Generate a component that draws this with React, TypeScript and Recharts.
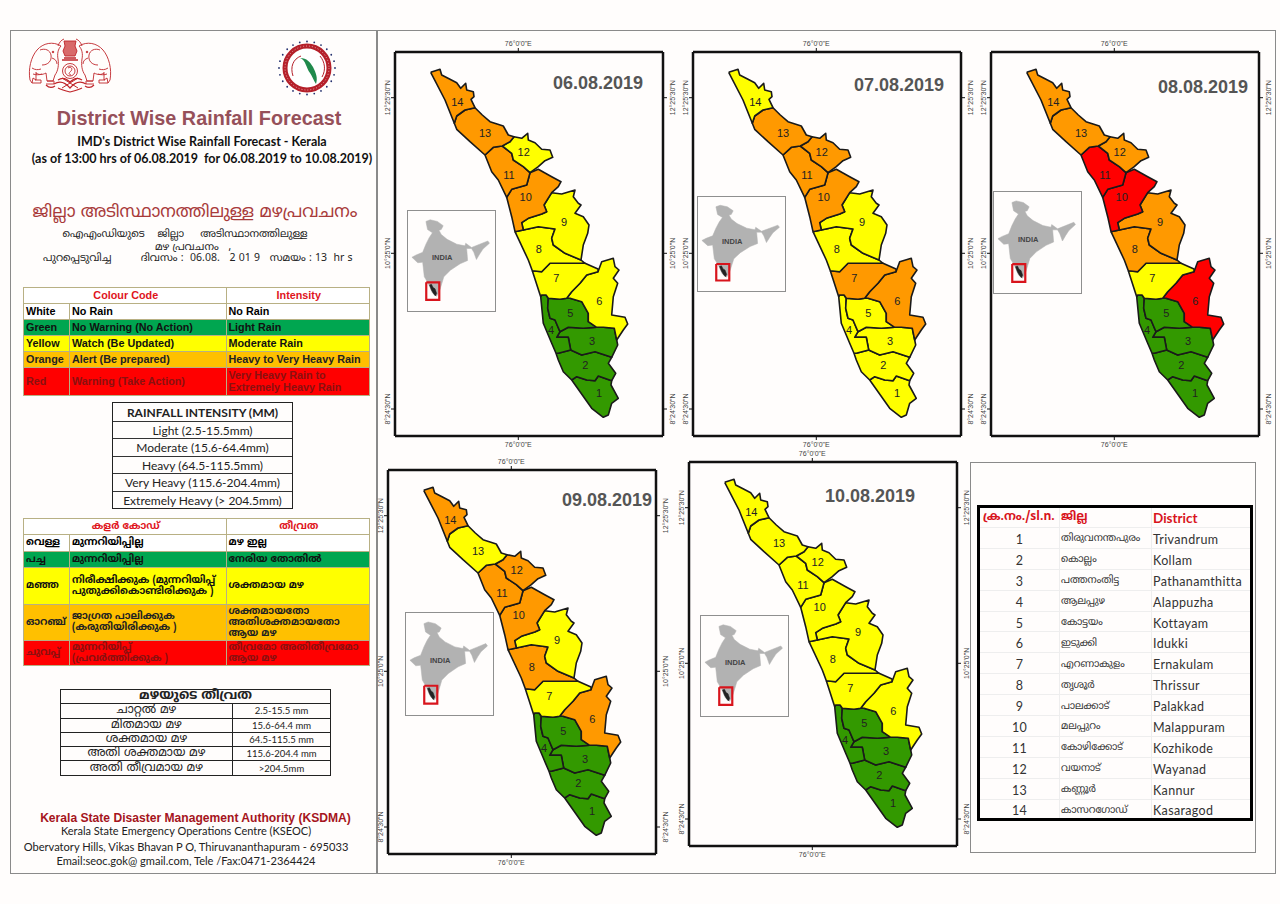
import React from 'react';
import { ScatterChart, Scatter, XAxis, YAxis } from 'recharts';

type Pt = [number, number];

// district outlines in sheet units (1 unit ~ 1px of that map)
const trivandrum: Pt[] = [[176.7,328],[181.7,324.7],[191.7,328],[200,328.7],[203.3,324],[216.7,328.7],[216,333],[223.3,346.3],[216.7,351.3],[213.3,363],[208.3,365.3],[196.7,356.3]];
const kollam: Pt[] = [[161,301.3],[163.3,301.3],[175.7,298],[186.7,303],[200,299.7],[216.7,305.3],[213.3,311.3],[220.7,321.3],[216.7,328.7],[203.3,324],[200,328.7],[191.7,328],[181.7,324.7],[176.7,328],[168.3,319.7],[163.3,308]];
const pathanamthitta: Pt[] = [[165,279.7],[173.3,275.3],[188.3,276.3],[201.7,275.3],[208.3,275.3],[219.3,276.3],[221.7,288],[222.7,293],[216.7,305.3],[200,299.7],[186.7,303],[175.7,298],[173.3,285.3],[161.7,285.3]];
const alappuzha: Pt[] = [[145.7,244.7],[146.7,243],[151,243],[153.3,246.3],[152.7,256.3],[155,266.3],[160,268],[165,279.7],[161.7,285.3],[173.3,285.3],[175.7,298],[163.3,301.3],[161,301.3],[156.7,291.3],[148.3,271.3]];
const kottayam: Pt[] = [[153.3,246.3],[165,247.3],[171.7,246.3],[175,246.3],[186.7,249.7],[193.3,261.3],[193.3,269.7],[201.7,275.3],[188.3,276.3],[173.3,275.3],[165,279.7],[160,268],[155,266.3],[152.7,256.3]];
const idukki: Pt[] = [[185,231.3],[191.7,223],[203,219.7],[206.7,209.7],[218.3,206.3],[220,214.7],[224,218],[218.3,226.3],[222.7,231.3],[218.3,244.7],[216.7,263],[230,265.3],[232.7,272],[228.3,278],[221.7,288],[219.3,276.3],[208.3,275.3],[201.7,275.3],[193.3,269.7],[193.3,261.3],[186.7,249.7],[175,246.3],[171.7,246.3],[176.7,239.7]];
const ernakulam: Pt[] = [[137.3,218.7],[146.7,219.7],[155,211.3],[173.3,211.3],[190,211.3],[203,217],[203,219.7],[191.7,223],[185,231.3],[176.7,239.7],[171.7,246.3],[165,247.3],[153.3,246.3],[151,243],[146.7,243],[145.7,244.7]];
const thrissur: Pt[] = [[120,179.7],[128.3,178],[143.3,174.7],[160,177],[156.7,186.3],[158.3,193],[170,201.3],[186,208],[190,211.3],[173.3,211.3],[155,211.3],[146.7,219.7],[137.3,218.7],[133.3,208]];
const palakkad: Pt[] = [[156.7,140.7],[166.7,142],[180,138],[178.3,144.7],[183.3,151.3],[186,153],[180,161.3],[188.3,164.7],[194,173],[192.7,181.3],[188.3,193],[186,208],[170,201.3],[158.3,193],[156.7,186.3],[160,177],[143.3,174.7],[128.3,178],[126.7,170.7],[133.3,166.3],[146.7,162],[151.7,159.7],[149,153]];
const malappuram: Pt[] = [[135,120.7],[143.3,117.3],[156.7,124.7],[166,129.7],[163.3,134.7],[156.7,140.7],[149,153],[151.7,159.7],[146.7,162],[133.3,166.3],[126.7,170.7],[128.3,178],[120,179.7],[116.7,164.7],[111.7,145.3],[116.7,137.3],[131.7,133]];
const kozhikode: Pt[] = [[90,103],[98.3,95.3],[107.3,94],[116.7,101.3],[118.3,108],[128.3,114.7],[135,120.7],[131.7,133],[116.7,137.3],[111.7,145.3],[103.3,128],[96.7,119.7]];
const wayanad: Pt[] = [[119,84.7],[126.7,86.3],[132.7,81.3],[133.3,88],[140,90.7],[146.7,97.3],[155,98],[157.7,105.3],[150,108.7],[143.3,114.7],[135,120.7],[128.3,114.7],[118.3,108],[116.7,101.3],[107.3,94],[115,89.7]];
const kannur: Pt[] = [[80,55.7],[87.3,63],[95,69.7],[108.3,74],[113.3,83],[119,84.7],[115,89.7],[107.3,94],[98.3,95.3],[90,103],[75,89.7],[61.7,77.3],[59.3,71.3],[61.7,64],[70,58]];
const kasaragod: Pt[] = [[35.7,20.3],[45,17.3],[46.7,23],[55,27.3],[61.7,30.7],[65.7,36.3],[70.7,31.3],[71.7,38],[78.3,39.7],[79,44.7],[76,47.3],[80,55.7],[70,58],[61.7,64],[59.3,71.3],[50,48]];

const districtRings = [trivandrum, kollam, pathanamthitta, alappuzha, kottayam, idukki, ernakulam, thrissur, palakkad, malappuram, kozhikode, wayanad, kannur, kasaragod];
const districtNumbers = ['1','2','3','4','5','6','7','8','9','10','11','12','13','14'];
const labelSpots: Pt[] = [[204,341.3],[190.3,313.3],[197,288.7],[156,278],[175.3,261.3],[204.3,249],[161.3,226.3],[143.7,197],[169,169.7],[130.7,145.3],[114,123],[128.7,99.7],[90,80.7],[62.3,49.7]];

const dates = ['06.08.2019','07.08.2019','08.08.2019','09.08.2019','10.08.2019'];
// alert level for districts 1..14 on each date: G green, Y yellow, O orange, R red
const alerts06 = 'G G G G G Y Y Y Y O O Y O O'.split(' ');
const alerts07 = 'Y Y Y Y Y O O Y Y O O O O Y'.split(' ');
const alerts08 = 'G G G G G R Y O O R R O O O'.split(' ');
const alerts09 = 'G G G G G O Y O Y O O O Y O'.split(' ');
const alerts10 = 'G G G G G Y Y Y Y Y Y Y Y Y'.split(' ');
const alertsByDate = [alerts06, alerts07, alerts08, alerts09, alerts10];

const lonTicks = [123.3];
const lonLabels = ['76°0\'0"E'];
const latTicks = [45.7, 201.3, 357];
const latLabels = ['12°25\'30"N', '10°25\'0"N', '8°24\'30"N'];

// locator inset, in its own little grid
const indiaOutline: Pt[] = [[75,45],[88,40],[110,45],[128,58],[122,70],[115,72],[122,85],[140,100],[170,115],[195,120],[197,112],[215,125],[240,115],[265,105],[270,112],[250,130],[240,145],[230,162],[222,140],[215,128],[200,128],[203,165],[180,175],[150,195],[130,215],[118,255],[108,275],[95,265],[82,235],[70,215],[65,170],[50,172],[32,155],[45,148],[65,140],[75,115],[85,95],[95,80],[80,70]];
const keralaSliver: Pt[] = [[86,240],[92,238],[97,248],[103,252],[108,266],[104,274],[98,266],[92,256]];
const locatorBox: Pt[] = [[76,232],[116,232],[116,286],[76,286]];

const colourRows = [
  ['White','No Rain','No Rain','#ffffff','#000'],
  ['Green','No Warning (No Action)','Light Rain','#00a650','#111'],
  ['Yellow','Watch (Be Updated)','Moderate Rain','#ffff00','#111'],
  ['Orange','Alert (Be prepared)','Heavy to Very Heavy Rain','#ffc000','#222'],
  ['Red','Warning (Take Action)','Very Heavy Rain to\nExtremely Heavy Rain','#ff0000','#8a1010'],
];
const intensityRows = ['RAINFALL INTENSITY (MM)','Light (2.5-15.5mm)','Moderate (15.6-64.4mm)','Heavy (64.5-115.5mm)','Very Heavy (115.6-204.4mm)','Extremely Heavy (> 204.5mm)'];
const mlColourRows = [
  ['വെള്ള','മുന്നറിയിപ്പില്ല','മഴ ഇല്ല','#ffffff','#000'],
  ['പച്ച','മുന്നറിയിപ്പില്ല','നേരിയ തോതിൽ','#00a650','#111'],
  ['മഞ്ഞ','നിരീക്ഷിക്കുക (മുന്നറിയിപ്പ്\nപുതുക്കികൊണ്ടിരിക്കുക )','ശക്തമായ മഴ','#ffff00','#111'],
  ['ഓറഞ്ച്','ജാഗ്രത പാലിക്കുക\n(കരുതിയിരിക്കുക )','ശക്തമായതോ\nഅതിശക്തമായതോ\nആയ മഴ','#ffc000','#222'],
  ['ചുവപ്പ്','മുന്നറിയിപ്പ്\n(പ്രവർത്തിക്കുക )','തീവ്രമോ അതിതീവ്രമോ\nആയ മഴ','#ff0000','#8a1010'],
];
const mlIntensityNames = ['ചാറ്റൽ മഴ','മിതമായ മഴ','ശക്തമായ മഴ','അതി ശക്തമായ മഴ','അതി തീവ്രമായ മഴ'];
const mlIntensityValues = ['2.5-15.5 mm','15.6-64.4 mm','64.5-115.5 mm','115.6-204.4 mm','>204.5mm'];
const districtsMl = ['തിരുവനന്തപുരം','കൊല്ലം','പത്തനംതിട്ട','ആലപ്പുഴ','കോട്ടയം','ഇടുക്കി','എറണാകുളം','തൃശൂർ','പാലക്കാട്','മലപ്പുറം','കോഴിക്കോട്','വയനാട്','കണ്ണൂർ','കാസറഗോഡ്'];
const districtsEn = ['Trivandrum','Kollam','Pathanamthitta','Alappuzha','Kottayam','Idukki','Ernakulam','Thrissur','Palakkad','Malappuram','Kozhikode','Wayanad','Kannur','Kasaragod'];

const alertFill: Record<string, string> = { G: '#339900', Y: '#ffff00', O: '#ff9900', R: '#ff0000' };
const ARIAL = '"Liberation Sans", Arial, sans-serif';
const CALIBRI = 'Lato, "Noto Sans", sans-serif';
const ML = '"Noto Sans Malayalam", "Noto Sans", "DejaVu Sans", sans-serif';

// frame of each map and its inset on the page
const mapPanels = [
  { left: 395, top: 52, dateX: 553, dateY: 74, insetX: 407, insetY: 210, insetH: 100 },
  { left: 693, top: 52, dateX: 854, dateY: 76, insetX: 697, insetY: 196, insetH: 94 },
  { left: 991, top: 52, dateX: 1158, dateY: 78, insetX: 993, insetY: 191, insetH: 101 },
  { left: 388, top: 470, dateX: 562, dateY: 491, insetX: 405, insetY: 612, insetH: 102 },
  { left: 689, top: 462, dateX: 825, dateY: 487, insetX: 700, insetY: 615, insetH: 100 },
];

const toPoints = (ring: Pt[]) => [...ring, ring[0]].map(([x, y]) => ({ x, y }));
const noDot = () => null;
const GUTTER = 22;

function LatTick({ x, y, payload, side }: any) {
  const label = latLabels[latTicks.indexOf(payload.value)];
  const tx = side === 'left' ? x + 1 : x + 6;
  return (
    <text transform={`translate(${tx},${y}) rotate(-90)`} textAnchor="middle" fontSize={7} fontFamily={ARIAL} fill="#444">
      {label}
    </text>
  );
}

function DistrictMap({ alerts }: { alerts: string[] }) {
  const axisLine = { stroke: '#111', strokeWidth: 2.5 };
  const tickLine = { stroke: '#111', strokeWidth: 1 };
  const tick = { fontSize: 7, fontFamily: ARIAL, fill: '#444' };
  const format = (v: number) => lonLabels[lonTicks.indexOf(v)];
  return (
    <ScatterChart width={268 + GUTTER * 2} height={384 + GUTTER * 2} margin={{ top: 0, right: 0, bottom: 0, left: 0 }}>
      <XAxis xAxisId="bottom" orientation="bottom" type="number" dataKey="x" domain={[0, 268]} ticks={lonTicks} interval={0} height={GUTTER} tickSize={4} tickFormatter={format} tick={tick} axisLine={axisLine} tickLine={tickLine} />
      <XAxis xAxisId="top" orientation="top" type="number" dataKey="x" domain={[0, 268]} ticks={lonTicks} interval={0} height={GUTTER} tickSize={4} tickFormatter={format} tick={tick} axisLine={axisLine} tickLine={tickLine} />
      <YAxis yAxisId="left" orientation="left" type="number" dataKey="y" reversed domain={[0, 384]} ticks={latTicks} interval={0} width={GUTTER} tickSize={4} tick={(p: any) => <LatTick {...p} side="left" />} axisLine={axisLine} tickLine={tickLine} />
      <YAxis yAxisId="right" orientation="right" type="number" dataKey="y" reversed domain={[0, 384]} ticks={latTicks} interval={0} width={GUTTER} tickSize={4} tick={(p: any) => <LatTick {...p} side="right" />} axisLine={axisLine} tickLine={tickLine} />
      {/* top and right axes only draw their ticks when a series is bound to them */}
      <Scatter xAxisId="top" yAxisId="right" data={toPoints(kasaragod)} shape={noDot} isAnimationActive={false} />
      {districtRings.map((ring, i) => (
        <Scatter
          key={districtNumbers[i]}
          xAxisId="bottom"
          yAxisId="left"
          data={toPoints(ring)}
          shape={noDot}
          line={{ fill: alertFill[alerts[i]], stroke: '#1a1a1a', strokeWidth: 1.6, strokeLinejoin: 'round' }}
          isAnimationActive={false}
        />
      ))}
      <Scatter
        xAxisId="bottom"
        yAxisId="left"
        data={labelSpots.map(([x, y], i) => ({ x, y, name: districtNumbers[i] }))}
        isAnimationActive={false}
        shape={(p: any) => (
          <text x={p.cx} y={p.cy} textAnchor="middle" dominantBaseline="central" fontSize={11} fontFamily={ARIAL} fill="#222">
            {p.payload.name}
          </text>
        )}
      />
    </ScatterChart>
  );
}

function IndiaInset({ h }: { h: number }) {
  return (
    <ScatterChart width={87} height={h} margin={{ top: 0, right: 0, bottom: 0, left: 0 }}>
      <XAxis type="number" dataKey="x" domain={[20, 287]} hide />
      <YAxis type="number" dataKey="y" reversed domain={[13, 317]} hide />
      <Scatter data={toPoints(indiaOutline)} shape={noDot} line={{ fill: '#b2b2b2', stroke: '#b2b2b2', strokeWidth: 0.5 }} isAnimationActive={false} />
      <Scatter data={toPoints(keralaSliver)} shape={noDot} line={{ fill: '#222', stroke: '#222', strokeWidth: 0.5 }} isAnimationActive={false} />
      <Scatter data={toPoints(locatorBox)} shape={noDot} line={{ fill: 'none', stroke: '#d8141c', strokeWidth: 2.2 }} isAnimationActive={false} />
      <Scatter
        data={[{ x: 125, y: 157 }]}
        isAnimationActive={false}
        shape={(p: any) => (
          <text x={p.cx} y={p.cy} textAnchor="middle" dominantBaseline="central" fontSize={7.5} fontWeight="bold" fontFamily={ARIAL} fill="#444">
            INDIA
          </text>
        )}
      />
    </ScatterChart>
  );
}

const abs = (left: number, top: number, width: number, height: number, extra: React.CSSProperties = {}): React.CSSProperties => ({
  position: 'absolute', left, top, width, height, boxSizing: 'border-box', ...extra,
});

function Line({ x, y, w, children, style }: any) {
  return (
    <div style={{ position: 'absolute', left: x, top: y, width: w, textAlign: 'center', whiteSpace: 'nowrap', lineHeight: 1, ...style }}>
      {children}
    </div>
  );
}

function Emblem() {
  const elephant = (
    <g>
      <path d="M33 8C25 3 15 5 9 12 3 19 0 31 2 42l2 3 1-5 3 2v-8M33 8c-3 3-4 8-3 13 1 6 0 12-3 16l-2 6h-6l-1-8c-4 2-7 2-10 0" />
      <path d="M12 12c5-2 10 0 11 5 1 6-3 10-9 10M7 42h6v3H4M19 43h7v3h-8M24 20c3 1 5 3 5 6" />
      <path d="M30 8c1-3 3-6 6-7" />
      <circle cx="25" cy="14" r="0.8" fill="#c0262b" />
      <path d="M4 30c3 2 6 2 9 1M5 36c3 1 6 1 9 0" />
    </g>
  );
  return (
    <svg style={abs(28, 38, 84, 56)} viewBox="0 0 84 56" fill="none" stroke="#c0262b" strokeWidth="0.9">
      {elephant}
      <g transform="translate(84,0) scale(-1,1)">{elephant}</g>
      <path d="M36 3h12l-1 5 2 5-2 5H37l-2-5 2-5z" fill="#d86a6a" />
      <path d="M36 20h12M34 22h16" strokeWidth="1.3" />
      <circle cx="42" cy="33" r="7.5" />
      <circle cx="42" cy="33" r="5" />
      <path d="M40 30c3-2 5 1 3 3s-3 3 0 4" />
      <path d="M30 42c4-3 8-2 12 2 4-4 8-5 12-2M26 46c5-3 11-2 16 4 5-6 11-7 16-4M30 50c4 2 8 3 12 4 4-1 8-2 12-4M18 47c3 3 6 3 9 1M66 47c-3 3-6 3-9 1" strokeWidth="1.2" />
      <path d="M34 40l16 10M50 40L34 50" strokeWidth="1" />
    </svg>
  );
}

function SdmaLogo() {
  const dots = Array.from({ length: 24 }, (_, i) => i * 15);
  return (
    <svg style={abs(277, 40, 60, 56)} viewBox="-30 -28 60 56">
      {dots.map(a => (
        <circle key={a} cx={28 * Math.cos((a * Math.PI) / 180)} cy={26.5 * Math.sin((a * Math.PI) / 180)} r="0.9" fill="#23306e" />
      ))}
      <circle r="22" fill="#fff" stroke="#b5202a" strokeWidth="5" />
      <circle r="22" fill="none" stroke="#fff" strokeWidth="0.6" strokeDasharray="1 2" />
      <path d="M-7 -10c6 2 6 10 10 15 2 3 4 8 6 11 2-6 0-11-3-17-3-5-6-9-13-9z" fill="#1f8a4c" />
      <path d="M-14 8c-3-9 0-17 8-20M13 -12c5 6 6 14 2 21" fill="none" stroke="#b5202a" strokeWidth="1" />
    </svg>
  );
}

const tan = '1px solid #b8b084';

function ColourTable({ top, head, rows, heights, headHeight, font, size }: any) {
  const cell = (extra: React.CSSProperties): React.CSSProperties => ({ border: tan, padding: '0 0 0 2px', overflow: 'hidden', whiteSpace: 'pre', ...extra });
  return (
    <table style={{ position: 'absolute', left: 23, top, width: 346, borderCollapse: 'collapse', tableLayout: 'fixed', fontFamily: font, fontSize: size, fontWeight: 'bold', lineHeight: 1.1 }}>
      <colgroup><col style={{ width: 46 }} /><col style={{ width: 156.5 }} /><col style={{ width: 143.5 }} /></colgroup>
      <tbody>
        <tr style={{ height: headHeight }}>
          <td colSpan={2} style={cell({ textAlign: 'center', color: '#e0141c', background: '#fff' })}>{head[0]}</td>
          <td style={cell({ textAlign: 'center', color: '#e0141c', background: '#fff' })}>{head[1]}</td>
        </tr>
        {rows.map((r: string[], i: number) => (
          <tr key={r[0]} style={{ height: heights[i], background: r[3], color: r[4] }}>
            <td style={cell({})}>{r[0]}</td>
            <td style={cell({})}>{r[1]}</td>
            <td style={cell({})}>{r[2]}</td>
          </tr>
        ))}
      </tbody>
    </table>
  );
}

export default function App() {
  const small = { fontFamily: ML, fontSize: 10.5, color: '#222' };
  const foot = { fontFamily: CALIBRI, fontSize: 11.1, color: '#222' };
  return (
    <div style={{ position: 'absolute', left: 0, top: 0, width: 1280, height: 904, background: '#fffdfc', overflow: 'hidden' }}>
      <div style={abs(10, 30, 367, 844, { border: '1.5px solid #8a8a8a' })} />
      <div style={abs(377, 30, 899, 844, { border: '1.5px solid #8a8a8a' })} />

      <Emblem />
      <SdmaLogo />

      <Line x={10} y={109} w={378} style={{ fontFamily: ARIAL, fontWeight: 'bold', fontSize: 19.8, color: '#96505a' }}>District Wise Rainfall Forecast</Line>
      <Line x={10} y={136} w={384} style={{ fontFamily: CALIBRI, fontWeight: 'bold', fontSize: 12.5, color: '#111' }}>IMD's District Wise Rainfall Forecast - Kerala</Line>
      <Line x={10} y={153} w={384} style={{ fontFamily: CALIBRI, fontWeight: 'bold', fontSize: 12.5, color: '#111' }}>(as of 13:00 hrs of 06.08.2019&nbsp; for 06.08.2019 to 10.08.2019)</Line>

      <Line x={10} y={205} w={370} style={{ fontFamily: ML, fontSize: 17, color: '#a83a3a' }}>ജില്ലാ അടിസ്ഥാനത്തിലുള്ള മഴപ്രവചനം</Line>
      <Line x={10} y={230} w={350} style={small}>ഐഎംഡിയുടെ&nbsp;&nbsp;&nbsp; ജില്ലാ&nbsp;&nbsp;&nbsp;&nbsp; അടിസ്ഥാനത്തിലുള്ള</Line>
      <Line x={10} y={243} w={366} style={small}>മഴ പ്രവചനം&nbsp;&nbsp; ,</Line>
      <Line x={43} y={254} w={320} style={{ ...small, textAlign: 'left' }}>പുറപ്പെടുവിച്ച&nbsp;&nbsp;&nbsp;&nbsp;&nbsp;&nbsp;&nbsp;&nbsp; ദിവസം :&nbsp; 06.08.&nbsp;&nbsp; 2 01 9&nbsp;&nbsp; സമയം : 13&nbsp; hr s</Line>

      <ColourTable top={287} head={['Colour Code', 'Intensity']} rows={colourRows} headHeight={16} heights={[16, 16, 16, 16, 28]} font={ARIAL} size={10.8} />

      <div style={abs(112, 402, 181, 107, { border: '1.5px solid #222', fontFamily: CALIBRI, fontSize: 12, color: '#222' })}>
        {intensityRows.map((t, i) => (
          <div key={t} style={{ height: i === 0 ? 19 : 17.4, lineHeight: i === 0 ? '19px' : '17px', boxSizing: 'border-box', borderBottom: i < 5 ? '1.5px solid #333' : 'none', textAlign: 'center', fontWeight: i === 0 ? 'bold' : 'normal', whiteSpace: 'nowrap' }}>{t}</div>
        ))}
      </div>

      <ColourTable top={518} head={['കളർ കോഡ്', 'തീവ്രത']} rows={mlColourRows} headHeight={16} heights={[16.5, 16.5, 36.5, 36.5, 24.5]} font={ML} size={10} />

      <table style={{ position: 'absolute', left: 60, top: 689, width: 270, borderCollapse: 'collapse', tableLayout: 'fixed', fontSize: 12, color: '#222' }}>
        <colgroup><col style={{ width: 172 }} /><col style={{ width: 98 }} /></colgroup>
        <tbody>
          <tr style={{ height: 14.3 }}>
            <td colSpan={2} style={{ border: '1px solid #222', textAlign: 'center', padding: 0, fontFamily: ML, fontWeight: 'bold', fontSize: 13, lineHeight: '13px' }}>മഴയുടെ തീവ്രത</td>
          </tr>
          {mlIntensityNames.map((n, i) => (
            <tr key={n} style={{ height: 14.3 }}>
              <td style={{ border: '1px solid #222', textAlign: 'center', padding: 0, fontFamily: ML, lineHeight: '13px' }}>{n}</td>
              <td style={{ border: '1px solid #222', textAlign: 'center', padding: 0, fontFamily: CALIBRI, fontSize: 9.5, lineHeight: '13px' }}>{mlIntensityValues[i]}</td>
            </tr>
          ))}
        </tbody>
      </table>

      <Line x={10} y={812} w={371} style={{ fontFamily: ARIAL, fontWeight: 'bold', fontSize: 12.1, color: '#a51420' }}>Kerala State Disaster Management Authority (KSDMA)</Line>
      <Line x={10} y={825} w={352} style={{ ...foot, fontSize: 11 }}>Kerala State Emergency Operations Centre (KSEOC)</Line>
      <Line x={10} y={841} w={352} style={foot}>Obervatory Hills, Vikas Bhavan P O, Thiruvananthapuram - 695033</Line>
      <Line x={10} y={855} w={352} style={foot}>Email:seoc.gok@ gmail.com, Tele /Fax:0471-2364424</Line>

      {mapPanels.map((p, i) => (
        <React.Fragment key={dates[i]}>
          <div style={{ position: 'absolute', left: p.left - GUTTER, top: p.top - GUTTER }}>
            <DistrictMap alerts={alertsByDate[i]} />
          </div>
          <div style={{ position: 'absolute', left: p.dateX, top: p.dateY, fontFamily: ARIAL, fontWeight: 'bold', fontSize: 18, color: '#555', lineHeight: 1, whiteSpace: 'nowrap' }}>{dates[i]}</div>
          <div style={{ ...abs(p.insetX, p.insetY, 89, p.insetH + 2), border: '1.5px solid #8f8f8f', background: '#fffdfc' }}>
            <IndiaInset h={p.insetH - 1} />
          </div>
        </React.Fragment>
      ))}

      <div style={abs(970, 462, 286, 391, { border: '1.5px solid #8a8a8a' })} />
      <table style={{ position: 'absolute', left: 977, top: 505, width: 273, height: 316, borderCollapse: 'collapse', tableLayout: 'fixed', border: '3px solid #000', fontFamily: CALIBRI, fontSize: 12.5, color: '#333', letterSpacing: 0.35 }}>
        <colgroup><col style={{ width: 81 }} /><col style={{ width: 92 }} /><col style={{ width: 100 }} /></colgroup>
        <tbody>
          <tr style={{ height: 21, color: '#d8141c', fontWeight: 'bold', fontSize: 13.5, letterSpacing: 0 }}>
            <td style={{ padding: '0 0 0 3px', fontFamily: ML, whiteSpace: 'nowrap', borderBottom: '1px solid #eee', borderRight: '1px solid #eee', fontSize: 12 }}>ക്ര.നം./sl.n.</td>
            <td style={{ padding: '0 0 0 1px', fontFamily: ML, borderBottom: '1px solid #eee', borderRight: '1px solid #eee', fontSize: 12 }}>ജില്ല</td>
            <td style={{ padding: '0 0 0 1px', borderBottom: '1px solid #eee' }}>District</td>
          </tr>
          {districtsEn.map((d, i) => (
            <tr key={d} style={{ height: 20.9 }}>
              <td style={{ padding: '3px 0 0 0', textAlign: 'center', borderBottom: '1px solid #eee', borderRight: '1px solid #eee' }}>{districtNumbers[i]}</td>
              <td style={{ padding: '2px 0 0 1px', fontFamily: ML, fontSize: 10, letterSpacing: 0, whiteSpace: 'nowrap', borderBottom: '1px solid #eee', borderRight: '1px solid #eee' }}>{districtsMl[i]}</td>
              <td style={{ padding: '3px 0 0 1px', borderBottom: '1px solid #eee', whiteSpace: 'nowrap' }}>{d}</td>
            </tr>
          ))}
        </tbody>
      </table>
    </div>
  );
}
